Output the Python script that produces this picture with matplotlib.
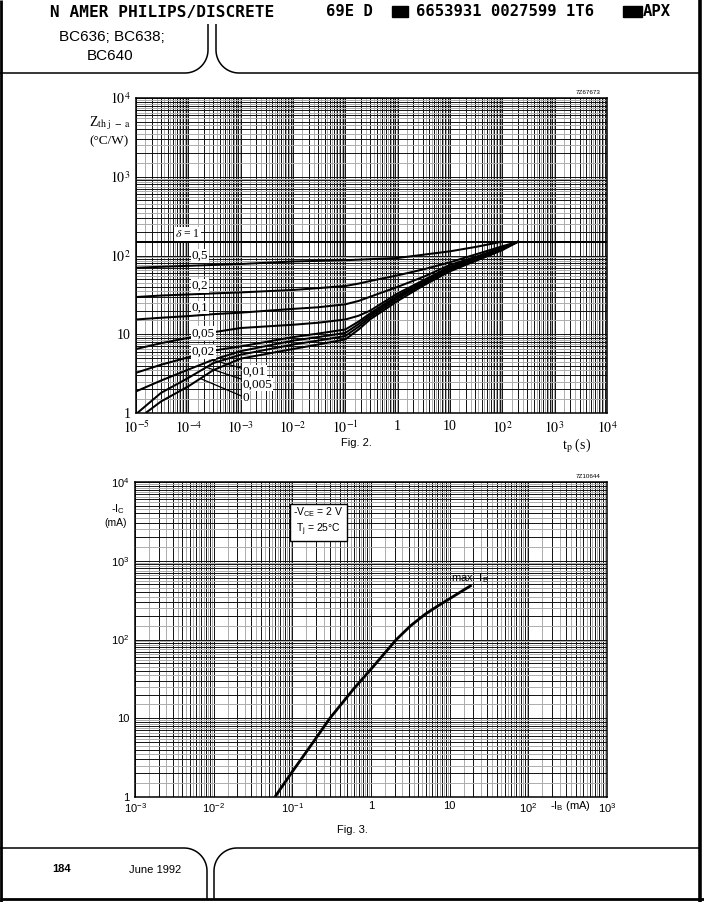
import numpy as np
import matplotlib
matplotlib.use("Agg")
import matplotlib.pyplot as plt
from matplotlib.lines import Line2D
from matplotlib.patches import Rectangle
from matplotlib.ticker import NullFormatter

W, H = 704, 902

# ---------------- Fig. 2 : Zth j-a versus tp, one curve per duty factor
t_d1 = [1e-5, 1e4]
z_d1 = [150, 150]
t_d05 = [1e-5, 1e-4, 1e-3, 1e-2, 1e-1, 1, 10, 32, 100]
z_d05 = [70, 74, 78, 84, 87, 93, 113, 129, 150]
t_main = [1e-5, 3e-5, 1e-4, 3e-4, 1e-3, 1e-2, 3e-2, 1e-1, 0.18, 0.3, 1, 3.2, 10, 32, 100, 200]
z_d02 = [29.7, 31, 32, 33, 34, 36.5, 38.5, 41, 44, 47.5, 56, 67, 82, 104, 131, 150]
z_d01 = [15.4, 16.2, 17, 18, 18.8, 21, 22, 24, 26.5, 30, 40, 54, 76, 97, 126, 150]
z_d005 = [6.5, 7.7, 9.0, 10.6, 12.0, 13.2, 14, 15.4, 17.2, 20, 33, 49, 72, 94, 123, 150]
z_d002 = [3.24, 4.1, 5.1, 6.2, 7.0, 9.2, 10.2, 11.5, 14.5, 18.5, 31, 47, 70, 92, 121, 150]
z_d001 = [1.88, 2.58, 3.56, 4.75, 6.1, 8.3, 9.2, 10.4, 13.5, 17.5, 29.8, 45.5, 68, 90, 120, 150]
t_d0005 = [1.06e-5, 3e-5, 1e-4, 3e-4, 1e-3, 1e-2, 3e-2, 1e-1, 0.18, 0.3, 1, 3.2, 10, 32, 100, 200]
z_d0005 = [1.0, 1.8, 2.79, 4.3, 5.5, 7.4, 8.3, 9.5, 12.5, 16.5, 28.3, 44, 66, 88, 119, 150]
t_d0 = [1.53e-5, 3e-5, 1e-4, 3e-4, 1e-3, 1e-2, 3e-2, 1e-1, 0.18, 0.3, 1, 3.2, 10, 32, 100, 200]
z_d0 = [1.0, 1.4, 2.18, 3.5, 4.9, 6.5, 7.4, 8.6, 11.5, 15.5, 26.5, 42, 63, 86, 117, 150]

fig2_xlabels = ["$10^{-5}$", "$10^{-4}$", "$10^{-3}$", "$10^{-2}$", "$10^{-1}$",
                "1", "10", "$10^{2}$", "$10^{3}$", "$10^{4}$"]
fig2_ylabels = ["1", "10", "$10^{2}$", "$10^{3}$", "$10^{4}$"]

# ---------------- Fig. 3 : -Ic versus -Ib
ib = [0.06, 0.1, 0.185, 0.3, 0.6, 1, 2.1, 3.2, 4.9, 7, 10, 19]
ic = [1, 2.1, 5.0, 10, 23.5, 42, 100, 150, 210, 265, 330, 490]

fig3_xlabels = ["10$^{-3}$", "10$^{-2}$", "10$^{-1}$", "1", "10", "10$^{2}$", "10$^{3}$"]
fig3_ylabels = ["1", "10", "10$^{2}$", "10$^{3}$", "10$^{4}$"]

plt.rcParams["mathtext.fontset"] = "custom"
plt.rcParams["mathtext.rm"] = "Liberation Sans"
plt.rcParams["mathtext.it"] = "Liberation Sans:italic"
SERIF = "Liberation Serif"
SANS = "Liberation Sans"

fig = plt.figure(figsize=(W / 100, H / 100), dpi=100)


def fx(px):
    return px / W


def fy(py):
    return 1 - py / H


def log_paper(ax, xdec, ydec, xlabels, ylabels, family, mathfam, size):
    ax.set_xscale("log")
    ax.set_yscale("log")
    ax.set_xlim(10.0 ** xdec[0], 10.0 ** xdec[1])
    ax.set_ylim(10.0 ** ydec[0], 10.0 ** ydec[1])
    for axis, dec, labels in ((ax.xaxis, xdec, xlabels), (ax.yaxis, ydec, ylabels)):
        exps = range(dec[0], dec[1])
        major = [m * 10.0 ** e for e in exps for m in range(1, 10)] + [10.0 ** dec[1]]
        minor = [m * 10.0 ** e for e in exps for m in np.arange(1.5, 10, 1.0)]
        names = []
        k = 0
        for v in major:
            if abs(np.log10(v) - round(np.log10(v))) < 1e-9:
                names.append(labels[k])
                k += 1
            else:
                names.append("")
        axis.set_ticks(major, labels=names, fontfamily=family,
                       math_fontfamily=mathfam, fontsize=size)
        axis.set_ticks(minor, minor=True)
        axis.set_minor_formatter(NullFormatter())
    ax.tick_params(which="both", length=0)
    ax.grid(which="major", color="#111111", lw=0.7)
    ax.grid(which="minor", color="#acacac", lw=0.7)
    ax.set_axisbelow(True)
    for s in ax.spines.values():
        s.set_linewidth(1.1)


# ---- Fig. 2
ax1 = fig.add_axes([fx(136), fy(413), fx(607) - fx(136), fy(98) - fy(413)])
log_paper(ax1, (-5, 4), (0, 4), fig2_xlabels, fig2_ylabels, SERIF, "stix", 10)
ax1.tick_params(axis="x", pad=5)
ax1.tick_params(axis="y", pad=4)

curves = [(t_d1, z_d1), (t_d05, z_d05), (t_main, z_d02), (t_main, z_d01),
          (t_main, z_d005), (t_main, z_d002), (t_main, z_d001),
          (t_d0005, z_d0005), (t_d0, z_d0)]
for t, z in curves:
    ax1.plot(t, z, color="black", lw=1.45, solid_capstyle="butt",
             solid_joinstyle="round", zorder=2)

box = dict(facecolor="white", edgecolor="none", pad=0.6)
ax1.text(5.6e-5, 187, r"$\delta$ = 1", fontfamily=SERIF, math_fontfamily="stix",
         fontsize=8.5, va="center", bbox=box, zorder=3)
for lab, zpos in (("0,5", 98), ("0,2", 41), ("0,1", 21.8), ("0,05", 10.3), ("0,02", 5.98)):
    ax1.text(1.17e-4, zpos, lab, fontfamily=SERIF, fontsize=9.5, va="center",
             bbox=box, zorder=3)

# leader lines to the three lowest curves
for lab, t, z, tstart, zlab in (("0,01", t_main, z_d001, 2.9e-4, 3.33),
                                ("0,005", t_d0005, z_d0005, 2.2e-4, 2.29),
                                ("0", t_d0, z_d0, 1.7e-4, 1.55)):
    zstart = 10 ** np.interp(np.log10(tstart), np.log10(t), np.log10(z))
    ax1.annotate(lab, xy=(tstart, zstart), xytext=(1.1e-3, zlab),
                 fontfamily=SERIF, fontsize=9.5, va="center", ha="left",
                 arrowprops=dict(arrowstyle="-", color="black", lw=0.9,
                                 shrinkA=1, shrinkB=0),
                 bbox=dict(facecolor="white", edgecolor="none", pad=0.3), zorder=3)

fig.text(fx(131), fy(123), r"Z$_{\mathrm{th\ j\ -\ a}}$", fontfamily=SERIF,
         math_fontfamily="stix", fontsize=10, ha="right", va="center")
fig.text(fx(129), fy(141), "(°C/W)", fontfamily=SERIF, fontsize=9.5,
         ha="right", va="center")
fig.text(fx(577), fy(446), r"t$_\mathrm{p}$ (s)", fontfamily=SERIF,
         math_fontfamily="stix", fontsize=10, ha="center", va="center")
fig.text(fx(356), fy(443), "Fig. 2.", fontfamily=SANS, fontsize=8,
         ha="center", va="center")
fig.text(fx(601), fy(92), "7Z67673", fontfamily=SANS, fontsize=4.5,
         ha="right", va="center")

# ---- Fig. 3
ax2 = fig.add_axes([fx(135), fy(797), fx(607) - fx(135), fy(482) - fy(797)])
log_paper(ax2, (-3, 3), (0, 4), fig3_xlabels, fig3_ylabels, SANS, "custom", 8)
ax2.tick_params(axis="x", pad=3)
ax2.tick_params(axis="y", pad=4)
ax2.plot(ib, ic, color="black", lw=2.0, solid_capstyle="butt",
         solid_joinstyle="round", zorder=2)
ax2.text(10.4, 603, "max -I$_\\mathrm{B}$", fontfamily=SANS, fontsize=8,
         va="center", ha="left", zorder=3)
ax2.text(0.389, 0.875, "-V$_\\mathrm{CE}$ = 2 V\nT$_\\mathrm{j}$ = 25°C",
         transform=ax2.transAxes, fontfamily=SANS, fontsize=7.5, ha="center",
         va="center", linespacing=1.25, zorder=3,
         bbox=dict(facecolor="white", edgecolor="black", lw=1.0, pad=2.5))

fig.text(fx(550), fy(806), "-I$_\\mathrm{B}$ (mA)", fontfamily=SANS, fontsize=8,
         ha="left", va="center")
fig.text(fx(125), fy(509), "-I$_\\mathrm{C}$", fontfamily=SANS, fontsize=8,
         ha="right", va="center")
fig.text(fx(127), fy(523), "(mA)", fontfamily=SANS, fontsize=7.5,
         ha="right", va="center")
fig.text(fx(352), fy(830), "Fig. 3.", fontfamily=SANS, fontsize=8,
         ha="center", va="center")
fig.text(fx(601), fy(476), "7Z10644", fontfamily=SANS, fontsize=4.5,
         ha="right", va="center")

# ---- page header / footer
MONO = "DejaVu Sans Mono"
fig.text(fx(50), fy(12), "N AMER PHILIPS/DISCRETE", fontfamily=MONO,
         fontweight="bold", fontsize=11.6, ha="left", va="center")
fig.text(fx(326), fy(12), "69E D", fontfamily=MONO, fontweight="bold",
         fontsize=11.2, ha="left", va="center")
fig.text(fx(416), fy(12), "6653931 0027599 1T6", fontfamily=MONO,
         fontweight="bold", fontsize=11.2, ha="left", va="center")
fig.text(fx(643), fy(12), "APX", fontfamily=MONO, fontweight="bold",
         fontsize=11.2, ha="left", va="center")
for x0, x1 in ((392, 408), (623, 642)):
    fig.add_artist(Rectangle((fx(x0), fy(17)), fx(x1) - fx(x0), fy(6) - fy(17),
                             transform=fig.transFigure, color="black"))

fig.text(fx(112), fy(37), "BC636; BC638;", fontfamily=SANS, fontsize=11,
         ha="center", va="center")
fig.text(fx(110), fy(56), "BC640", fontfamily=SANS, fontsize=11,
         ha="center", va="center")
fig.text(fx(52), fy(869), "184", fontfamily=SANS, fontweight="bold",
         fontsize=8, ha="left", va="center")
fig.text(fx(129), fy(870), "June 1992", fontfamily=SANS, fontsize=8,
         ha="left", va="center")


def arc(cx, cy, r, a0, a1):
    a = np.radians(np.linspace(a0, a1, 20))
    return list(cx + r * np.cos(a)), list(cy + r * np.sin(a))


def page_line(xs, ys, lw=1.1):
    fig.add_artist(Line2D([fx(x) for x in xs], [fy(y) for y in ys],
                          transform=fig.transFigure, color="black", lw=lw,
                          solid_capstyle="butt"))


R = 23
ax_, ay_ = arc(185, 50, R, 90, 0)
page_line([0] + ax_ + [208], [73] + ay_ + [24])
ax_, ay_ = arc(239, 50, R, 180, 90)
page_line([216] + ax_ + [699], [24] + ay_ + [73])
ax_, ay_ = arc(184, 871, R, -90, 0)
page_line([0] + ax_ + [207], [848] + ay_ + [899])
ax_, ay_ = arc(237, 871, R, 180, 270)
page_line([214] + ax_ + [699], [899] + ay_ + [848])

page_line([1, 1], [0, 902], lw=2.0)
page_line([699.5, 699.5], [0, 902], lw=2.6)
page_line([0, 704], [899, 899], lw=2.0)

fig.savefig("out.png", dpi=100)
